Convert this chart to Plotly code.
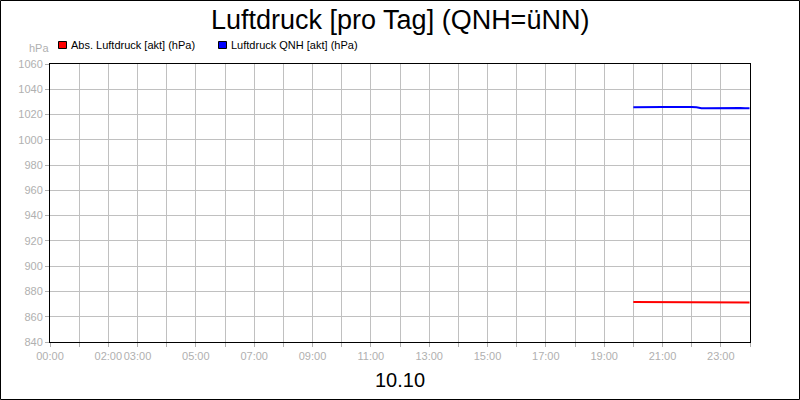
import plotly.graph_objects as go

# measurements for 10.10, 20:00 - 24:00
times = [
    "20:00", "20:10", "20:20", "20:30", "20:40", "20:50",
    "21:00", "21:10", "21:20", "21:30", "21:40", "21:50",
    "22:00", "22:10", "22:20", "22:30", "22:40", "22:50",
    "23:00", "23:10", "23:20", "23:30", "23:40", "23:50", "23:59",
]
qnh = [
    1025.8, 1025.9, 1025.8, 1025.9, 1025.8, 1025.9,
    1026.0, 1025.9, 1026.0, 1026.1, 1026.1, 1026.0,
    1026.0, 1025.7, 1025.0, 1024.9, 1025.0, 1025.1,
    1025.2, 1025.3, 1025.2, 1025.3, 1025.1, 1025.0, 1025.0,
]
abs_pressure = [
    871.7, 871.7, 871.7, 871.7, 871.7, 871.7,
    871.8, 871.8, 871.7, 871.7, 871.7, 871.6,
    871.6, 871.5, 871.5, 871.4, 871.4, 871.4,
    871.3, 871.3, 871.3, 871.2, 871.2, 871.2, 871.2,
]
hour_ticks = list(range(0, 25))
tick_labels = {0: "00:00", 2: "02:00", 3: "03:00", 5: "05:00", 7: "07:00",
               9: "09:00", 11: "11:00", 13: "13:00", 15: "15:00",
               17: "17:00", 19: "19:00", 21: "21:00", 23: "23:00"}
y_ticks = list(range(840, 1061, 20))
series_names = ["Abs. Luftdruck [akt] (hPa)", "Luftdruck QNH [akt] (hPa)"]
series_colors = ["#ff0000", "#0000ff"]

hours = [int(t[:2]) + int(t[3:]) / 60 for t in times]

FONT = "Liberation Sans, Arial, sans-serif"
GREY = "#b0b0b0"

# plot area is 50..750 px wide, 64..342 px high
W, H = 800, 400
L, R, T, B = 50, 50, 64, 58
pw, ph = W - L - R, H - T - B


def px(x):
    return (x - L) / pw


def py(y):
    return (T + ph - y) / ph


fig = go.Figure()
legend_x = [58, 218]
for name, values, color, lx in zip(series_names, [abs_pressure, qnh],
                                   series_colors, legend_x):
    fig.add_trace(go.Scatter(
        x=hours, y=values, mode="lines", name=name,
        line={"color": color, "width": 2}, showlegend=False,
    ))
    # hand-made legend entry: square + label
    fig.add_shape(type="rect", xref="paper", yref="paper",
                  x0=px(lx + 0.5), x1=px(lx + 8.5), y0=py(48.5), y1=py(41.5),
                  fillcolor=color, line={"color": "black", "width": 1})
    fig.add_annotation(text=name, xref="paper", yref="paper",
                       x=px(lx + 11), y=py(45), xanchor="left", yanchor="middle",
                       showarrow=False, font={"family": FONT, "size": 11, "color": "black"})

fig.add_shape(type="rect", xref="paper", yref="paper",
              x0=px(0.5), x1=px(W - 0.5), y0=py(H - 0.5), y1=py(0.5),
              line={"color": "black", "width": 1})

fig.add_annotation(text="Luftdruck [pro Tag] (QNH=üNN)", xref="paper", yref="paper",
                   x=0.5, y=py(20), xanchor="center", yanchor="middle",
                   showarrow=False, font={"family": FONT, "size": 27, "color": "black"})
fig.add_annotation(text="10.10", xref="paper", yref="paper",
                   x=0.5, y=py(380), xanchor="center", yanchor="middle",
                   showarrow=False, font={"family": FONT, "size": 20, "color": "black"})
fig.add_annotation(text="hPa", xref="paper", yref="paper",
                   x=px(51), y=py(48), xanchor="right", yanchor="middle",
                   showarrow=False, font={"family": FONT, "size": 11, "color": GREY})

axis_style = {
    "showgrid": True, "gridcolor": "#c0c0c0", "gridwidth": 1,
    "showline": True, "linecolor": "black", "linewidth": 1, "mirror": True,
    "ticks": "outside", "ticklen": 4, "tickcolor": GREY,
    "tickfont": {"color": GREY, "size": 11}, "zeroline": False,
}
fig.update_layout(
    width=W, height=H,
    margin={"l": L, "r": R, "t": T, "b": B},
    paper_bgcolor="white", plot_bgcolor="white",
    font={"family": FONT, "size": 11, "color": "black"},
    showlegend=False,
    xaxis={"range": [0, 24], "tickvals": hour_ticks, "tickangle": 0,
           "ticktext": [tick_labels.get(h, "") for h in hour_ticks], **axis_style},
    yaxis={"range": [840, 1060], "tickvals": y_ticks, **axis_style},
)

fig.write_html("out.html", config={"displayModeBar": False},
               post_script="document.body.style.margin='0';")
